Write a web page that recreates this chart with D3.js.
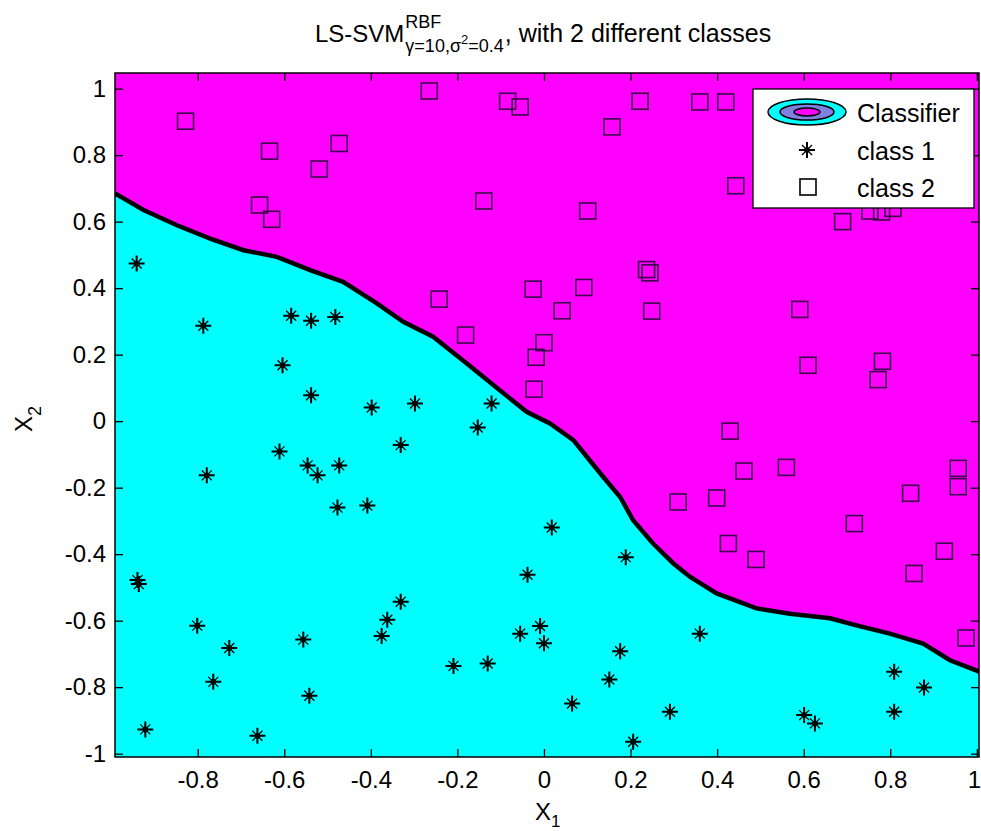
<!DOCTYPE html>
<html>
<head>
  <meta charset='utf-8'>
  <title>LS-SVM classifier</title>
  <script src='https://cdn.jsdelivr.net/npm/d3@7/dist/d3.min.js'></script>
  <style type='text/css'>
    body { margin: 0; background: #fff; }
    svg text { font-family: 'Liberation Sans', Arial, sans-serif; fill: #000; }
  </style>
</head>
<body>
  <div id='plot-container'></div>
  <script>
    // data
    const class1Points = [
        [-0.941, 0.474], [-0.787, 0.287], [-0.584, 0.317], [-0.538, 0.302],
        [-0.482, 0.313], [-0.604, 0.168], [-0.538, 0.078], [-0.398, 0.041],
        [-0.298, 0.053], [-0.121, 0.053], [-0.611, -0.091], [-0.779, -0.163],
        [-0.546, -0.133], [-0.523, -0.163], [-0.473, -0.133], [-0.477, -0.260],
        [-0.408, -0.254], [-0.331, -0.072], [-0.153, -0.019], [-0.939, -0.478],
        [-0.936, -0.490], [-0.801, -0.615], [-0.727, -0.682], [-0.764, -0.784],
        [-0.921, -0.927], [-0.662, -0.946], [-0.556, -0.657], [-0.542, -0.826],
        [-0.331, -0.543], [-0.362, -0.597], [-0.375, -0.646], [0.018, -0.320],
        [0.189, -0.409], [-0.038, -0.462], [-0.009, -0.616], [-0.055, -0.639],
        [0.000, -0.668], [-0.209, -0.736], [-0.130, -0.729], [0.176, -0.692],
        [0.151, -0.777], [0.065, -0.849], [0.291, -0.874], [0.206, -0.964],
        [0.360, -0.639], [0.809, -0.754], [0.878, -0.801], [0.809, -0.874],
        [0.601, -0.884], [0.626, -0.909]
    ];
    const class2Points = [
        [-0.828, 0.902], [-0.634, 0.812], [-0.473, 0.835], [-0.519, 0.758],
        [-0.657, 0.650], [-0.629, 0.607], [-0.265, 0.993], [-0.084, 0.962],
        [-0.055, 0.945], [0.222, 0.962], [0.157, 0.885], [0.360, 0.960],
        [0.420, 0.960], [-0.139, 0.662], [0.101, 0.632], [0.237, 0.456],
        [0.245, 0.446], [-0.025, 0.397], [0.092, 0.402], [-0.242, 0.367],
        [0.042, 0.332], [0.249, 0.331], [-0.181, 0.259], [0.000, 0.236],
        [-0.018, 0.192], [-0.023, 0.096], [0.443, 0.708], [0.690, 0.600],
        [0.753, 0.632], [0.780, 0.629], [0.806, 0.640], [0.591, 0.336],
        [0.610, 0.168], [0.782, 0.180], [0.772, 0.125], [0.430, -0.030],
        [0.462, -0.150], [0.560, -0.139], [0.399, -0.231], [0.310, -0.243],
        [0.957, -0.142], [0.957, -0.197], [0.847, -0.217], [0.717, -0.308],
        [0.426, -0.368], [0.490, -0.416], [0.925, -0.391], [0.855, -0.458],
        [0.975, -0.652]
    ];
    // decision boundary (class 1 below, class 2 above)
    const boundaryPoints = [
        [-0.991, 0.685], [-0.925, 0.635], [-0.848, 0.589], [-0.771, 0.549],
        [-0.694, 0.514], [-0.617, 0.494], [-0.540, 0.454], [-0.464, 0.419],
        [-0.386, 0.354], [-0.325, 0.299], [-0.256, 0.254], [-0.179, 0.174],
        [-0.102, 0.093], [-0.040, 0.028], [0.014, -0.007], [0.068, -0.057],
        [0.099, -0.107], [0.137, -0.168], [0.176, -0.228], [0.206, -0.298],
        [0.252, -0.368], [0.299, -0.428], [0.337, -0.468], [0.399, -0.518],
        [0.491, -0.563], [0.568, -0.579], [0.661, -0.593], [0.722, -0.614],
        [0.799, -0.639], [0.876, -0.669], [0.938, -0.719], [1.007, -0.754]
    ];
    const xTickValues = [-0.8, -0.6, -0.4, -0.2, 0, 0.2, 0.4, 0.6, 0.8, 1];
    const yTickValues = [-1, -0.8, -0.6, -0.4, -0.2, 0, 0.2, 0.4, 0.6, 0.8, 1];
    const legendLabels = ['Classifier', 'class 1', 'class 2'];

    // prepares the plot area
    const svg = d3.select('#plot-container').append('svg')
        .attr('width', 981)
        .attr('height', 831);
    const plot = { left: 115, top: 73, right: 979, bottom: 757 };
    const x = d3.scaleLinear()
        .domain([-0.991, 1.005])
        .range([plot.left, plot.right]);
    const y = d3.scaleLinear()
        .domain([-1.01, 1.047])
        .range([plot.bottom, plot.top]);
    const fmt = d => String(+d.toFixed(1));

    svg.append('clipPath').attr('id', 'plot-clip')
        .append('rect')
        .attr('x', plot.left).attr('y', plot.top)
        .attr('width', plot.right - plot.left)
        .attr('height', plot.bottom - plot.top);
    const g = svg.append('g').attr('clip-path', 'url(#plot-clip)');

    // class regions
    g.append('rect')
        .attr('x', plot.left).attr('y', plot.top)
        .attr('width', plot.right - plot.left)
        .attr('height', plot.bottom - plot.top)
        .attr('fill', '#ff00ff');
    g.append('path')
        .datum(boundaryPoints)
        .attr('fill', '#00ffff')
        .attr('d', d3.area()
            .x(d => x(d[0]))
            .y0(y(-1.2))
            .y1(d => y(d[1])));
    g.append('path')
        .datum(boundaryPoints)
        .attr('fill', 'none')
        .attr('stroke', '#000')
        .attr('stroke-width', 4.5)
        .attr('d', d3.line().x(d => x(d[0])).y(d => y(d[1])));

    // markers
    const starPath = 'M-8,0H8M0,-8V8';
    const starDiag = 'M-5,-5L5,5M-5,5L5,-5';
    const stars = g.selectAll('.star')
        .data(class1Points)
        .enter().append('g')
        .attr('class', 'star')
        .attr('transform', d => `translate(${x(d[0])}, ${y(d[1])})`);
    stars.append('path').attr('d', starPath)
        .attr('stroke', '#000').attr('stroke-width', 2);
    stars.append('path').attr('d', starDiag)
        .attr('stroke', '#000').attr('stroke-width', 1.3);
    stars.append('circle').attr('r', 2.8).attr('fill', '#000');

    g.selectAll('.square')
        .data(class2Points)
        .enter().append('rect')
        .attr('class', 'square')
        .attr('x', d => x(d[0]) - 8)
        .attr('y', d => y(d[1]) - 8)
        .attr('width', 16).attr('height', 16)
        .attr('fill', 'none')
        .attr('stroke', '#3a0a48')
        .attr('stroke-width', 1.6);

    // axes with inward ticks on all four sides
    const axes = [
        { axis: d3.axisBottom(x).tickValues(xTickValues).tickFormat(fmt).tickPadding(14),
          at: `translate(0, ${plot.bottom})` },
        { axis: d3.axisTop(x).tickValues(xTickValues).tickFormat(''),
          at: `translate(0, ${plot.top})` },
        { axis: d3.axisLeft(y).tickValues(yTickValues).tickFormat(fmt).tickPadding(9),
          at: `translate(${plot.left}, 0)` },
        { axis: d3.axisRight(y).tickValues(yTickValues).tickFormat(''),
          at: `translate(${plot.right}, 0)` }
    ];
    const axisGroups = axes.map(a => {
        const ag = svg.append('g')
            .attr('transform', a.at)
            .call(a.axis.tickSize(-8));
        ag.select('.domain').remove();
        ag.selectAll('.tick line').attr('stroke', '#000').attr('stroke-width', 1.3);
        ag.selectAll('.tick text')
            .style('font-family', "'Liberation Sans', Arial, sans-serif")
            .style('font-size', '24px')
            .attr('fill', '#000');
        return ag;
    });
    // the last x label sits on the right edge of the picture
    axisGroups[0].selectAll('.tick text')
        .filter(d => d === 1)
        .attr('dx', -3);

    svg.append('rect')
        .attr('x', plot.left).attr('y', plot.top)
        .attr('width', plot.right - plot.left)
        .attr('height', plot.bottom - plot.top)
        .attr('fill', 'none')
        .attr('stroke', '#000')
        .attr('stroke-width', 1.5);

    // title built from pieces so the sub/superscript line up
    const titleSize = 25, scriptSize = 18;
    let tx = 315;
    const t1 = svg.append('text').attr('x', tx).attr('y', 42)
        .style('font-size', '24px').text('LS-SVM');
    tx += t1.node().getComputedTextLength();
    svg.append('text').attr('x', tx + 1).attr('y', 28)
        .style('font-size', scriptSize + 'px').text('RBF');
    const sub = svg.append('text').attr('x', tx + 1).attr('y', 52)
        .style('font-size', scriptSize + 'px');
    sub.append('tspan').text('\u03b3=10,\u03c3');
    sub.append('tspan').attr('dy', -8).style('font-size', '13px').text('2');
    sub.append('tspan').attr('dy', 8).text('=0.4');
    tx += 1 + sub.node().getComputedTextLength();
    svg.append('text').attr('x', tx + 1).attr('y', 42)
        .style('font-size', titleSize + 'px')
        .text(', with 2 different classes');

    // axis labels
    const xl = svg.append('text').attr('x', 535).attr('y', 820)
        .style('font-size', '24px');
    xl.append('tspan').text('X');
    xl.append('tspan').attr('dy', 7).style('font-size', '17px').text('1');
    const yl = svg.append('text')
        .attr('transform', 'translate(32, 432) rotate(-90)')
        .style('font-size', '24px');
    yl.append('tspan').text('X');
    yl.append('tspan').attr('dy', 9).style('font-size', '18px').text('2');

    // legend
    const legend = svg.append('g');
    legend.append('rect')
        .attr('x', 753).attr('y', 89)
        .attr('width', 221).attr('height', 119)
        .attr('fill', '#fff')
        .attr('stroke', '#000')
        .attr('stroke-width', 1.3);
    const icon = [
        { rx: 39, ry: 13, fill: '#00ffff' },
        { rx: 27, ry: 8, fill: '#8080e0' },
        { rx: 13, ry: 4, fill: '#ff00ff' }
    ];
    legend.selectAll('.ring')
        .data(icon)
        .enter().append('ellipse')
        .attr('cx', 807).attr('cy', 112)
        .attr('rx', d => d.rx).attr('ry', d => d.ry)
        .attr('fill', d => d.fill)
        .attr('stroke', '#000')
        .attr('stroke-width', 1.5);
    const ls = legend.append('g').attr('transform', 'translate(807, 150)');
    ls.append('path').attr('d', starPath).attr('stroke', '#000').attr('stroke-width', 2);
    ls.append('path').attr('d', starDiag).attr('stroke', '#000').attr('stroke-width', 1.3);
    ls.append('circle').attr('r', 2.8).attr('fill', '#000');
    legend.append('rect')
        .attr('x', 800).attr('y', 179)
        .attr('width', 16).attr('height', 16)
        .attr('fill', 'none')
        .attr('stroke', '#000')
        .attr('stroke-width', 1.6);
    legend.selectAll('.label')
        .data(legendLabels)
        .enter().append('text')
        .attr('class', 'label')
        .attr('x', 857)
        .attr('y', (d, i) => 122 + i * 37.5)
        .style('font-size', '25px')
        .text(d => d);
  </script>
</body>
</html>
